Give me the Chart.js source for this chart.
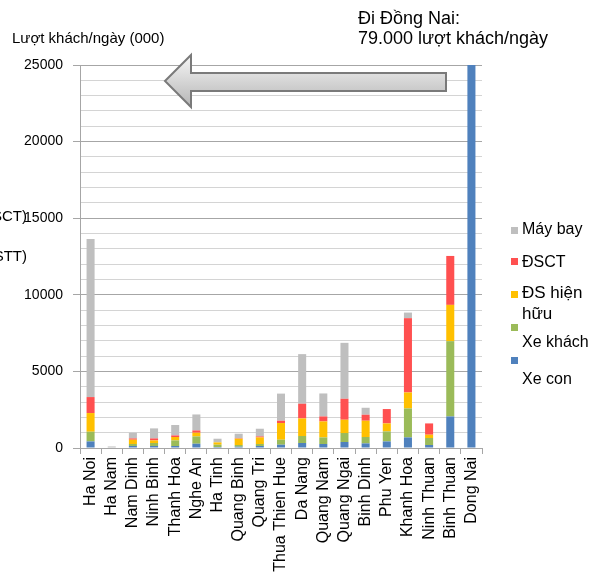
<!DOCTYPE html>
<html>
<head>
<meta charset="utf-8">
<style>
  body { margin: 0; background: #fff; }
  #wrap { width: 600px; height: 576px; }
</style>
<script src="https://cdn.jsdelivr.net/npm/chart.js@4"></script>
</head>
<body>
<div id="wrap"><canvas id="chart" width="600" height="576"></canvas></div>
<script>
// provinces along the route
const provinces = [
  "Ha Noi", "Ha Nam", "Nam Dinh", "Ninh Binh", "Thanh Hoa", "Nghe An", "Ha Tinh",
  "Quang Binh", "Quang Tri", "Thua Thien Hue", "Da Nang", "Quang Nam", "Quang Ngai",
  "Binh Dinh", "Phu Yen", "Khanh Hoa", "Ninh Thuan", "Binh Thuan", "Dong Nai"
];

// passengers per day (000), one array per mode
const xeCon    = [430, 0, 130, 130, 130, 280, 65, 85, 130, 215, 326, 260, 391, 300, 430, 691, 196, 2060, 79000];
const xeKhach  = [633, 0, 130, 196, 365, 476, 150, 111, 130, 326, 456, 431, 587, 417, 652, 1891, 456, 4915, 0];
const dsHienHuu = [1219, 0, 281, 169, 222, 241, 150, 410, 431, 1089, 1148, 1043, 867, 1063, 522, 1043, 215, 2367, 0];
const dsct     = [1043, 0, 85, 131, 104, 150, 0, 30, 65, 150, 958, 326, 1369, 391, 938, 4850, 737, 3194, 0];
const mayBay   = [10319, 100, 371, 654, 679, 1043, 241, 296, 502, 1770, 3239, 1500, 3650, 456, 0, 365, 0, 0, 0];

const seriesNames = ["Xe con", "Xe khách", "ĐS hiện hữu", "ĐSCT", "Máy bay"];
const seriesColors = ["#4f81bd", "#9bbb59", "#ffc000", "#ff5050", "#bfbfbf"];

const yTicks = [0, 5000, 10000, 15000, 20000, 25000];

const FONT = "'Liberation Sans', Arial, sans-serif";

// ✅ Custom legend + arrow + loose text
const extras = {
  id: "extras",
  afterDraw(chart) {
    const ctx = chart.ctx;
    ctx.save();

    // big arrow pointing back to the left
    let grad = ctx.createLinearGradient(0, 55, 0, 108);
    grad.addColorStop(0, "#f6f6f6");
    grad.addColorStop(1, "#b4b4b4");
    ctx.beginPath();
    ctx.moveTo(165, 81);
    ctx.lineTo(191, 55);
    ctx.lineTo(191, 73);
    ctx.lineTo(446, 73);
    ctx.lineTo(446, 91);
    ctx.lineTo(191, 91);
    ctx.lineTo(191, 107);
    ctx.closePath();
    ctx.fillStyle = grad;
    ctx.fill();
    ctx.strokeStyle = "#7a7a7a";
    ctx.lineWidth = 2;
    ctx.stroke();

    ctx.fillStyle = "#000";
    ctx.textAlign = "left";
    ctx.textBaseline = "alphabetic";

    ctx.font = "15px " + FONT;
    ctx.fillText("Lượt khách/ngày (000)", 12, 43);

    ctx.font = "18px " + FONT;
    ctx.fillText("Đi Đồng Nai:", 358, 24);
    ctx.fillText("79.000 lượt khách/ngày", 358, 44);

    // cut-off labels at the left edge
    ctx.font = "15px " + FONT;
    ctx.textAlign = "right";
    ctx.fillText("(ĐSCT)", 27, 221);
    ctx.fillText("(ĐSTT)", 27, 261);

    // legend (odd Excel layout)
    const items = [
      { i: 4, sq: 227, lines: [["Máy bay", 234]], size: 16 },
      { i: 3, sq: 258, lines: [["ĐSCT", 267]], size: 16 },
      { i: 2, sq: 291, lines: [["ĐS hiện", 298], ["hữu", 319]], size: 17 },
      { i: 1, sq: 324, lines: [["Xe khách", 347]], size: 16 },
      { i: 0, sq: 357, lines: [["Xe con", 384]], size: 16 }
    ];
    ctx.textAlign = "left";
    items.forEach((it) => {
      ctx.fillStyle = seriesColors[it.i];
      ctx.fillRect(511, it.sq, 7, 7);
      ctx.fillStyle = "#000";
      ctx.font = it.size + "px " + FONT;
      it.lines.forEach(([t, y]) => ctx.fillText(t, 522, y));
    });

    ctx.restore();
  }
};

const seriesData = [xeCon, xeKhach, dsHienHuu, dsct, mayBay];

new Chart(document.getElementById("chart").getContext("2d"), {
  type: "bar",
  data: {
    labels: provinces,
    datasets: seriesData.map((d, i) => ({
      label: seriesNames[i],
      data: d,
      backgroundColor: seriesColors[i],
      barPercentage: 0.38,
      categoryPercentage: 1.0
    }))
  },
  options: {
    responsive: false,
    animation: false,
    layout: { padding: { top: 65, right: 118, left: 0, bottom: 0 } },
    plugins: {
      legend: { display: false },
      tooltip: { enabled: false }
    },
    scales: {
      x: {
        stacked: true,
        afterFit: (s) => { s.height = 128; },
        border: { color: "#a6a6a6" },
        grid: {
          drawOnChartArea: false,
          offset: true,
          tickLength: 6,
          color: "#a6a6a6"
        },
        ticks: {
          autoSkip: false,
          minRotation: 90,
          maxRotation: 90,
          padding: 3,
          color: "#000",
          font: { family: FONT, size: 16 }
        }
      },
      y: {
        stacked: true,
        min: 0,
        max: 25000,
        afterFit: (s) => { s.width = 80; },
        border: { color: "#a6a6a6" },
        grid: {
          color: (c) => (yTicks.includes(c.tick.value) ? "#a6a6a6" : "#d4d4d4"),
          tickColor: (c) => (yTicks.includes(c.tick.value) ? "#a6a6a6" : "rgba(0,0,0,0)"),
          tickLength: 7
        },
        ticks: {
          stepSize: 1000,
          autoSkip: false,
          padding: 10,
          color: "#000",
          font: { family: FONT, size: 14 },
          callback: (v) => (yTicks.includes(v) ? String(v) : "")
        }
      }
    }
  },
  plugins: [extras]
});
</script>
</body>
</html>
